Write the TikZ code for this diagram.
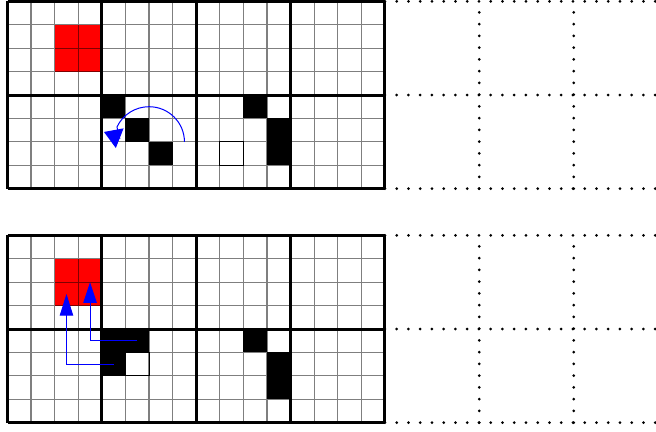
\documentclass[tikz,border=0pt]{standalone}
\usetikzlibrary{arrows.meta}
\tikzset{
  cellline/.style={black, opacity=.5, line width=1.2pt},
  blockline/.style={black, line width=3pt},
  dotline/.style={black, line width=3pt, line cap=round, dash pattern=on 0pt off 11.75pt},
  moveline/.style={blue, line width=1pt},
  outlined/.style={black, line width=1pt},
}
\begin{document}
\begin{tikzpicture}[x=23.59pt, y=23.4pt]
    \useasboundingbox (-0.318,-0.397) rectangle (27.49,18.06);
    % upper board
    \begin{scope}[shift={(0,10)}]
    \fill[red] (2,5) rectangle (4,7);
    \fill (4,3) rectangle (5,4);
    \fill (5,2) rectangle (6,3);
    \fill (6,1) rectangle (7,2);
    \fill (10,3) rectangle (11,4);
    \fill (11,1) rectangle (12,3);
    \draw[cellline, step=1] (0,0) grid (16,8);
    \draw[outlined] (9,1) rectangle (10,2);
    \draw[blockline, step=4] (0,0) grid (16,8);
    \coordinate (turnstart) at (7.5,2);
    \coordinate (turnbase) at (4.755,2.155);
    \coordinate (turntip) at (4.09,2.42);
    \draw[moveline, -{Triangle[length=16.9pt, width=20.9pt]}] (turnstart)
        arc[start angle=0, end angle=155, radius=1.5] -- (turnbase) -- (turntip);
    \end{scope}
    % lower board
    \begin{scope}
    \fill[red] (2,5) rectangle (4,7);
    \fill (4,3) rectangle (6,4);
    \fill (4,2) rectangle (5,3);
    \fill (10,3) rectangle (11,4);
    \fill (11,1) rectangle (12,3);
    \draw[cellline, step=1] (0,0) grid (16,8);
    \draw[outlined] (5,2) rectangle (6,3);
    \draw[blockline, step=4] (0,0) grid (16,8);
    \coordinate (movea) at (5.5,3.5);
    \coordinate (targeta) at (3.5,6);
    \coordinate (moveb) at (4.5,2.5);
    \coordinate (targetb) at (2.5,5.5);
    \draw[moveline, -{Triangle[length=20.6pt, width=13.4pt]}] (movea) -| (targeta);
    \draw[moveline, -{Triangle[length=21.7pt, width=13.4pt]}] (moveb) -| (targetb);
    \end{scope}
    % dotted continuation
    \foreach \y in {0,4,8,10,14,18}
        \draw[dotline] (16,\y) -- (27.6,\y);
    \foreach \x in {20,24} {
        \draw[dotline] (\x,0) -- (\x,8);
        \draw[dotline] (\x,10) -- (\x,18);
    }
\end{tikzpicture}
\end{document}
